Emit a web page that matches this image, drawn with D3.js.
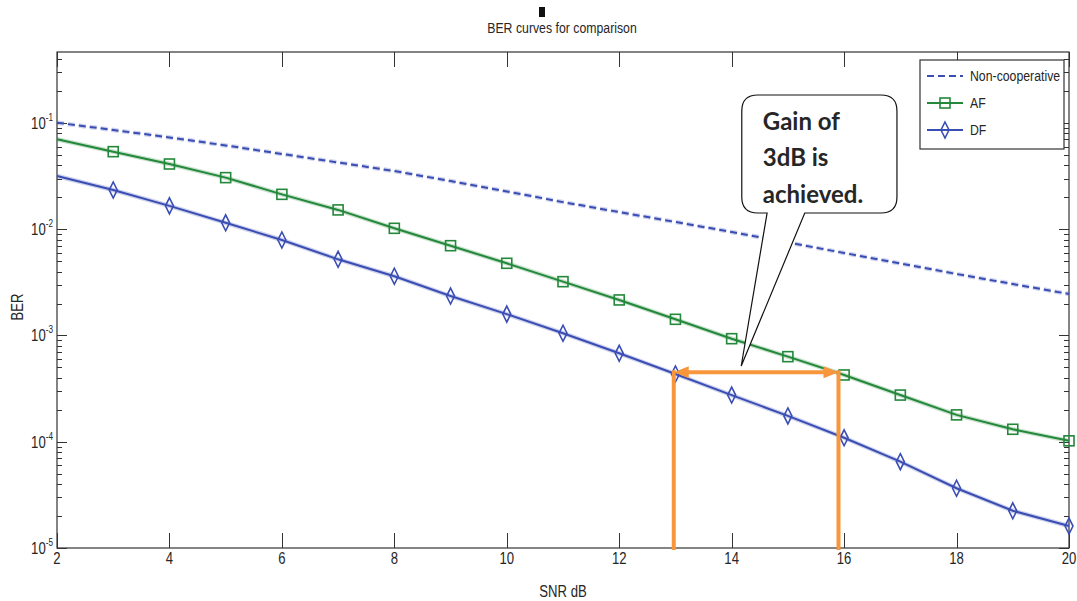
<!DOCTYPE html>
<html>
<head>
<meta charset="utf-8">
<script src="https://cdn.jsdelivr.net/npm/d3@7"></script>
<style>
  html, body { margin: 0; padding: 0; background: #fff; }
  svg { display: block; }
  text { font-family: "Liberation Sans", Arial, sans-serif; fill: #262626; }
</style>
</head>
<body>
<svg id="chart" width="1077" height="601"></svg>
<script>
// ---- data ----
const snrDb = [2, 3, 4, 5, 6, 7, 8, 9, 10, 11, 12, 13, 14, 15, 16, 17, 18, 19, 20];
const berNonCoop = [0.1006, 0.0859, 0.0731, 0.0615, 0.0511, 0.0425, 0.0353, 0.0284, 0.0227, 0.0180,
                    0.0145, 0.0117, 0.00942, 0.00750, 0.00598, 0.00476, 0.00379, 0.00305, 0.00246];
const berAF = [0.0703, 0.0537, 0.0411, 0.0306, 0.0213, 0.0152, 0.0102, 0.00700, 0.00478, 0.00321,
               0.00216, 0.00142, 0.000933, 0.000632, 0.000425, 0.000275, 0.000179, 0.000131, 0.000102];
const berDF = [0.0317, 0.0234, 0.0166, 0.0115, 0.00792, 0.00521, 0.00361, 0.00235, 0.00159, 0.00105,
               0.000680, 0.000434, 0.000275, 0.000175, 0.000109, 0.0000649, 0.0000365, 0.0000224, 0.0000161];
const xTickValues = [2, 4, 6, 8, 10, 12, 14, 16, 18, 20];
const yDecadeExponents = [-5, -4, -3, -2, -1];
const legendLabels = ["Non-cooperative", "AF", "DF"];
const titleText = "BER curves for comparison";
const xLabelText = "SNR dB";
const yLabelText = "BER";
const calloutLines = ["Gain of", "3dB is", "achieved."];
// SNR at which DF and AF reach the same BER, and that BER level
const gainSnr = [12.97, 15.9];
const gainBer = 4.5e-4;
// speech bubble, in SNR / BER units
const bubble = { left: 14.18, right: 16.94, top: 0.1834, bottom: 0.01422,
                 tailLeft: 14.63, tailRight: 15.30, tipSnr: 14.17, tipBer: 5.16e-4 };

// ---- layout ----
const plot = { left: 57, right: 1069, top: 52, bottom: 548 };
const yTop = Math.pow(10, -0.332);
const narrow = 0.82;   // horizontal squeeze for the condensed axis font

const svg = d3.select("#chart");
const x = d3.scaleLinear().domain([2, 20]).range([plot.left, plot.right]);
const y = d3.scaleLog().domain([1e-5, yTop]).range([plot.bottom, plot.top]);

const axisColor = "#333";
const blue = "#3a4db3";
const green = "#23883a";
const orange = "#f7963b";

// condensed text helper
function ntext(g, px, py, anchor, size, str, rotate) {
  const t = g.append("text")
    .attr("transform", `translate(${px},${py})` + (rotate ? ` rotate(${rotate})` : "") + ` scale(${narrow},1)`)
    .attr("text-anchor", anchor).attr("font-size", size);
  if (str != null) t.text(str);
  return t;
}

// axes frame
svg.append("rect")
  .attr("x", plot.left).attr("y", plot.top)
  .attr("width", plot.right - plot.left).attr("height", plot.bottom - plot.top)
  .attr("fill", "none").attr("stroke", axisColor).attr("stroke-width", 1.2);

// x ticks (inward, bottom and top)
const gx = svg.append("g");
xTickValues.forEach(v => {
  const px = Math.round(x(v)) + 0.5;
  gx.append("line").attr("x1", px).attr("x2", px).attr("y1", plot.bottom).attr("y2", plot.bottom - 15)
    .attr("stroke", axisColor).attr("stroke-width", 1);
  gx.append("line").attr("x1", px).attr("x2", px).attr("y1", plot.top).attr("y2", plot.top + 15)
    .attr("stroke", axisColor).attr("stroke-width", 1);
  ntext(gx, x(v), plot.bottom + 16, "middle", 16, v);
});

// y ticks: decades (major) and 2..9 multiples (minor)
const gy = svg.append("g");
const yTicks = [];
yDecadeExponents.forEach(e => {
  const d = Math.pow(10, e);
  yTicks.push({ v: d, major: true });
  for (let m = 2; m <= 9; m++) {
    if (m * d <= yTop) yTicks.push({ v: m * d, major: false });
  }
});
yTicks.forEach(t => {
  const py = Math.round(y(t.v)) + 0.5;
  const len = t.major ? 10 : 5;
  gy.append("line").attr("x1", plot.left).attr("x2", plot.left + len).attr("y1", py).attr("y2", py)
    .attr("stroke", axisColor).attr("stroke-width", 1);
  gy.append("line").attr("x1", plot.right).attr("x2", plot.right - len).attr("y1", py).attr("y2", py)
    .attr("stroke", axisColor).attr("stroke-width", 1);
});
yDecadeExponents.forEach(e => {
  const t = ntext(gy, plot.left - 4, y(Math.pow(10, e)) + 6, "end", 16, null);
  t.append("tspan").text("10");
  t.append("tspan").attr("font-size", 10).attr("dy", -8).text("-" + Math.abs(e));
});

// axis labels and title
ntext(svg, (plot.left + plot.right) / 2, 597, "middle", 16, xLabelText);
ntext(svg, 23, 307, "middle", 16, yLabelText, -90);
ntext(svg, 562, 33, "middle", 15, titleText);
svg.append("rect").attr("x", 539).attr("y", 7).attr("width", 6).attr("height", 10).attr("fill", "#111");

// series
const rows = snrDb.map((s, i) => ({ snr: s, nc: berNonCoop[i], af: berAF[i], df: berDF[i] }));
const lineOf = key => d3.line().x(d => x(d.snr)).y(d => y(d[key]))(rows);

const series = [
  { key: "nc", color: blue, dash: "7,4", marker: null },
  { key: "af", color: green, dash: null, marker: "square" },
  { key: "df", color: blue, dash: null, marker: "diamond" }
];

const gLines = svg.append("g");
series.forEach(s => {
  gLines.append("path").attr("d", lineOf(s.key)).attr("fill", "none")
    .attr("stroke", s.color).attr("stroke-opacity", 0.25).attr("stroke-width", 4.5)
    .attr("stroke-dasharray", s.dash);
  gLines.append("path").attr("d", lineOf(s.key)).attr("fill", "none")
    .attr("stroke", s.color).attr("stroke-width", 2)
    .attr("stroke-dasharray", s.dash);
});

function drawMarker(g, type, cx, cy, color) {
  if (type === "square") {
    g.append("rect").attr("x", cx - 5).attr("y", cy - 5).attr("width", 10).attr("height", 10)
      .attr("fill", "none").attr("stroke", color).attr("stroke-width", 1.6);
  } else if (type === "diamond") {
    g.append("path").attr("d", `M${cx},${cy - 8}L${cx + 4},${cy}L${cx},${cy + 8}L${cx - 4},${cy}Z`)
      .attr("fill", "none").attr("stroke", color).attr("stroke-width", 1.6);
  }
}

const gMarks = svg.append("g");
series.filter(s => s.marker).forEach(s => {
  rows.slice(1).forEach(d => drawMarker(gMarks, s.marker, x(d.snr), y(d[s.key]), s.color));
});

// gain annotation (orange double arrow)
const ga = svg.append("g");
const xa = x(gainSnr[0]), xb = x(gainSnr[1]), ya = y(gainBer);
ga.append("line").attr("x1", xa).attr("x2", xa).attr("y1", plot.bottom + 2).attr("y2", ya - 2)
  .attr("stroke", orange).attr("stroke-width", 4);
ga.append("line").attr("x1", xb).attr("x2", xb).attr("y1", plot.bottom + 2).attr("y2", ya - 2)
  .attr("stroke", orange).attr("stroke-width", 4);
ga.append("line").attr("x1", xa + 10).attr("x2", xb - 10).attr("y1", ya).attr("y2", ya)
  .attr("stroke", orange).attr("stroke-width", 4);
ga.append("path").attr("d", `M${xa},${ya}L${xa + 15},${ya - 6}L${xa + 15},${ya + 6}Z`).attr("fill", orange);
ga.append("path").attr("d", `M${xb},${ya}L${xb - 15},${ya - 6}L${xb - 15},${ya + 6}Z`).attr("fill", orange);

// speech bubble
const bl = x(bubble.left), br = x(bubble.right), bt = y(bubble.top), bb = y(bubble.bottom);
const tl = x(bubble.tailLeft), tr = x(bubble.tailRight), tx = x(bubble.tipSnr), ty = y(bubble.tipBer);
const r = 16;
const bubblePath = `M${bl + r},${bt}H${br - r}Q${br},${bt} ${br},${bt + r}V${bb - r}Q${br},${bb} ${br - r},${bb}` +
  `H${tr}L${tx},${ty}L${tl},${bb}H${bl + r}Q${bl},${bb} ${bl},${bb - r}V${bt + r}Q${bl},${bt} ${bl + r},${bt}Z`;
svg.append("path").attr("d", bubblePath).attr("fill", "#fff").attr("stroke", "#111").attr("stroke-width", 1.2);
calloutLines.forEach((line, i) => {
  svg.append("text").attr("x", bl + 21).attr("y", bt + 35 + i * 36.5)
    .style("font-family", "Lato, 'Open Sans', sans-serif").attr("font-weight", 700)
    .attr("font-size", 24).attr("fill", "#111").text(line);
});

// legend
const lg = svg.append("g");
const lgBox = { left: 920, right: 1064, top: 60, bottom: 149 };
lg.append("rect").attr("x", lgBox.left).attr("y", lgBox.top)
  .attr("width", lgBox.right - lgBox.left).attr("height", lgBox.bottom - lgBox.top)
  .attr("fill", "#fff").attr("stroke", axisColor).attr("stroke-width", 1.2);
const legendRows = [76, 103, 130];
series.forEach((s, i) => {
  const ly = legendRows[i];
  lg.append("line").attr("x1", 927).attr("x2", 963).attr("y1", ly).attr("y2", ly)
    .attr("stroke", s.color).attr("stroke-width", 2).attr("stroke-dasharray", s.dash);
  if (s.marker) drawMarker(lg, s.marker, 945, ly, s.color);
  ntext(lg, 970, ly + 5, "start", 15, legendLabels[i]);
});
</script>
</body>
</html>
